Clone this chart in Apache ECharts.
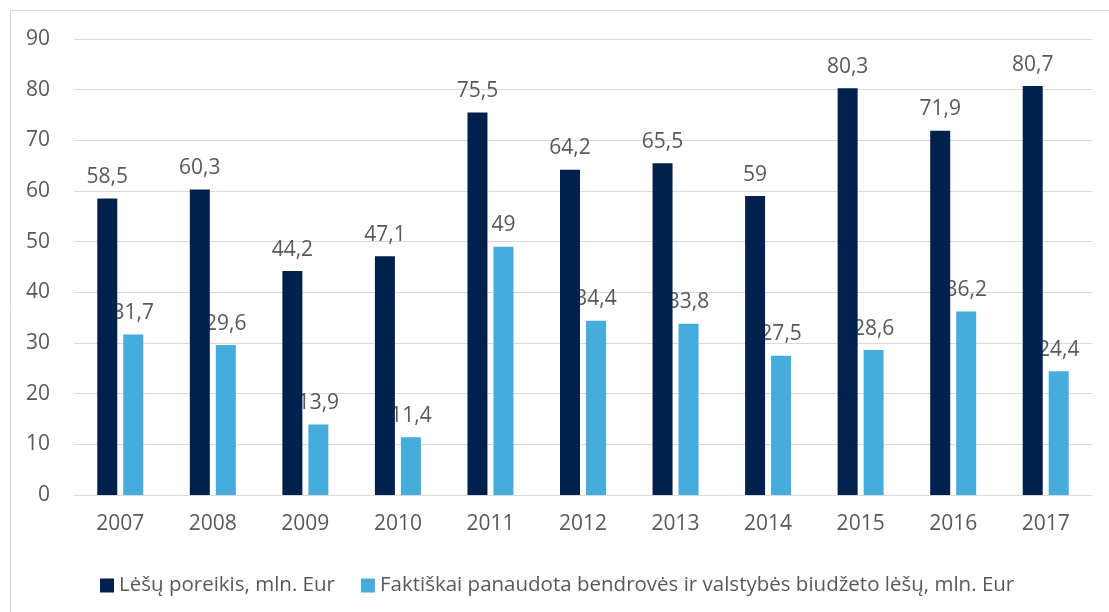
<!DOCTYPE html>
<html>
<head>
<meta charset="utf-8">
<style>
  html, body { margin: 0; padding: 0; background: #fff; }
  #chart { width: 1109px; height: 612px; }
</style>
<script src="https://cdn.jsdelivr.net/npm/echarts@6/dist/echarts.min.js"></script>
</head>
<body>
<div id="chart"></div>
<script>
// metai
const years = ['2007', '2008', '2009', '2010', '2011', '2012', '2013', '2014', '2015', '2016', '2017'];
// Lėšų poreikis, mln. Eur
const poreikis = [58.5, 60.3, 44.2, 47.1, 75.5, 64.2, 65.5, 59, 80.3, 71.9, 80.7];
// Faktiškai panaudota lėšų, mln. Eur
const panaudota = [31.7, 29.6, 13.9, 11.4, 49, 34.4, 33.8, 27.5, 28.6, 36.2, 24.4];
const seriesNames = ['Lėšų poreikis, mln. Eur', 'Faktiškai panaudota bendrovės ir valstybės biudžeto lėšų, mln. Eur'];

const font = '"Open Sans", "Noto Sans", sans-serif';
const textColor = '#595959';

// lietuviškas kablelis
const fmt = p => String(p.value).replace('.', ',');

const chart = echarts.init(document.getElementById('chart'));
chart.setOption({
  animation: false,
  textStyle: { fontFamily: font },
  color: ['#00214B', '#45ACDB'],
  graphic: [{
    type: 'rect',
    shape: { x: 10.5, y: 10.5, width: 1200, height: 700 },
    style: { fill: 'none', stroke: '#D9D9D9', lineWidth: 1 },
    silent: true
  }],
  grid: { left: 74, right: 17, top: 39, bottom: 117 },
  legend: {
    left: 95,
    top: 570,
    itemWidth: 14,
    itemHeight: 14,
    itemGap: 26,
    icon: 'rect',
    textStyle: { fontFamily: font, fontSize: 20.5, color: textColor },
    data: seriesNames
  },
  xAxis: {
    type: 'category',
    data: years,
    axisTick: { show: false },
    axisLine: { lineStyle: { color: '#D9D9D9', width: 1 } },
    axisLabel: { color: textColor, fontSize: 21, margin: 19, fontFamily: font }
  },
  yAxis: {
    type: 'value',
    min: 0,
    max: 90,
    interval: 10,
    axisLine: { show: false },
    axisTick: { show: false },
    splitLine: { lineStyle: { color: '#D9D9D9', width: 1 } },
    axisLabel: { color: textColor, fontSize: 21, margin: 24, fontFamily: font }
  },
  series: [
    {
      name: seriesNames[0],
      type: 'bar',
      data: poreikis,
      z: 3,
      barWidth: 20,
      barGap: '30%',
      label: { show: true, position: 'top', distance: 11, color: textColor, fontSize: 21, fontFamily: font, formatter: fmt }
    },
    {
      name: seriesNames[1],
      type: 'bar',
      data: panaudota,
      z: 2,
      barWidth: 20,
      label: { show: true, position: 'top', distance: 11, color: textColor, fontSize: 21, fontFamily: font, formatter: fmt }
    }
  ]
});
</script>
</body>
</html>
